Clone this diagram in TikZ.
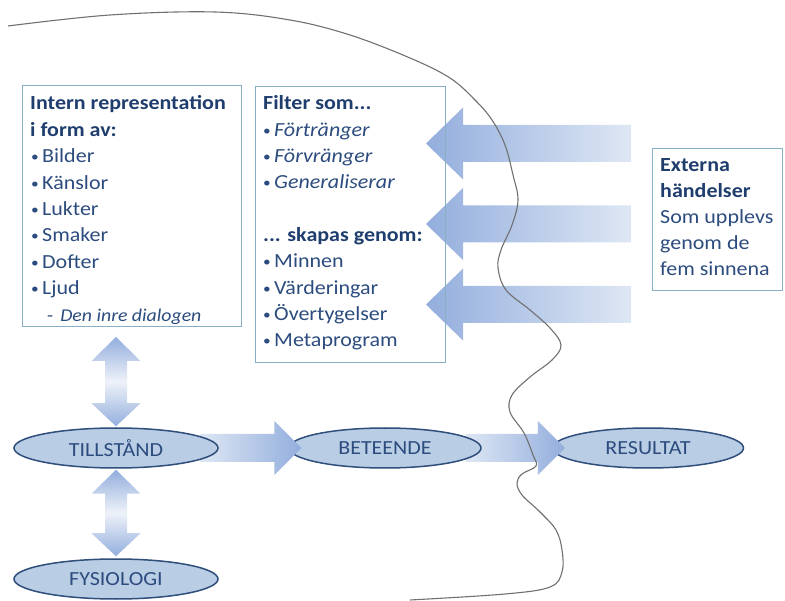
\documentclass[tikz,border=0pt]{standalone}
\usepackage{fontspec}
\setmainfont{Carlito}[FakeStretch=1.1]
\usetikzlibrary{calc,shapes.geometric}
\definecolor{txtc}{HTML}{2C4C7E}
\definecolor{hdc}{HTML}{1F3E6E}
\definecolor{bxc}{HTML}{86AFC6}
\definecolor{ellf}{HTML}{B9CDE5}
\definecolor{elld}{HTML}{2F4E7C}
\definecolor{adark}{HTML}{93AEDD}
\definecolor{alight}{HTML}{DEE7F4}
\definecolor{amid}{HTML}{EEF2F9}
\definecolor{curvec}{HTML}{707070}
\newcommand\bul{\makebox[11pt][l]{\fontsize{14}{14}\selectfont\raisebox{1pt}{•}}}
\newcommand\rarr[2]{\shade[left color=alight, right color=adark] let \p1=#1, \p2=#2 in
  (\x1,\y1+14pt) -- (\x2-27pt,\y1+14pt) -- (\x2-27pt,\y1+27pt) -- (\x2,\y2) --
  (\x2-27pt,\y1-27pt) -- (\x2-27pt,\y1-14pt) -- (\x1,\y1-14pt) -- cycle;}
\newcommand\larr[2]{\shade[left color=adark, right color=alight] let \p1=#1, \p2=#2 in
  (\x1,\y1) -- (\x1+37pt,\y1+36pt) -- (\x1+37pt,\y1+18.5pt) -- (\x2,\y1+18.5pt) --
  (\x2,\y1-18.5pt) -- (\x1+37pt,\y1-18.5pt) -- (\x1+37pt,\y1-36pt) -- cycle;}
\newcommand\vdarr[2]{\shade[top color=adark, bottom color=adark, middle color=amid] let \p1=#1, \p2=#2 in
  (\x1,\y1) -- (\x1+24.5pt,\y1-24pt) -- (\x1+11pt,\y1-24pt) -- (\x1+11pt,\y2+23pt) --
  (\x1+24.5pt,\y2+23pt) -- (\x2,\y2) -- (\x1-24.5pt,\y2+23pt) -- (\x1-11pt,\y2+23pt) --
  (\x1-11pt,\y1-24pt) -- (\x1-24.5pt,\y1-24pt) -- cycle;}
\begin{document}
\begin{tikzpicture}[x=1pt,y=-1pt,
  box/.style={draw=bxc, line width=0.8pt, anchor=north west, inner sep=0pt, outer sep=0pt},
  ln/.style={anchor=base west, inner sep=0pt, text=txtc, font=\fontsize{20}{24}\selectfont},
  hd/.style={ln, text=hdc, font=\fontsize{20}{24}\selectfont\bfseries},
  ell/.style={ellipse, draw=elld, fill=ellf, line width=1.5pt, minimum height=40, inner sep=0pt,
    text=txtc, font=\fontsize{20}{24}\selectfont}
]
\useasboundingbox (0,0) rectangle (785,601);

% boxes (frames, no fill)
\node[box, minimum width=219, minimum height=241] (intern) at (22,85) {};
\node[box, minimum width=190, minimum height=276] (filter) at (255,86) {};
\node[box, minimum width=130, minimum height=142] (ext) at (652,148) {};

% left-pointing arrows from external events to filter
\foreach \k in {0,1,2} {
  \coordinate (lt\k) at ($(filter.north east)+(-19,57.5+80.5*\k)$);
  \coordinate (lr\k) at ($(ext.north west)+(-21,-4.5+80.5*\k)$);
  \larr{(lt\k)}{(lr\k)}
}
% redraw frames on top
\draw[bxc, line width=0.8pt] (filter.north west) rectangle (filter.south east);

% ellipses and horizontal arrows (layered)
\node[ell, minimum width=191] (r) at (648,448) {RESULTAT};
\node[ell, minimum width=204, draw=none, fill=none] (t) at (116,448) {};
\node[ell, minimum width=192, draw=none, fill=none] (b) at (385,448) {};
\coordinate (h2s) at ($(b.east)+(-16,0)$);
\coordinate (h2t) at ($(r.west)+(13,0)$);
\rarr{(h2s)}{(h2t)}
\node[ell, minimum width=192] (b2) at (b) {BETEENDE};
\coordinate (h1s) at ($(t.east)+(-19,0)$);
\coordinate (h1t) at ($(b.west)+(13,0)$);
\rarr{(h1s)}{(h1t)}
\node[ell, minimum width=204] (t2) at (t) {TILLSTÅND};
\node[ell, minimum width=204] (f) at (116,579) {FYSIOLOGI};

% vertical double arrows
\coordinate (v1a) at ($(t.north |- intern.south)+(0,11)$);
\coordinate (v1b) at ($(t.north)+(0,-1)$);
\vdarr{(v1a)}{(v1b)}
\coordinate (v2a) at ($(t.south)+(0,1)$);
\coordinate (v2b) at ($(f.north)+(0,-2)$);
\vdarr{(v2a)}{(v2b)}

% texts: internal representation
\node[hd] (i0) at (30,110) {Intern representation};
\node[hd] (i1) at (30,136.4) {i form av:};
\foreach \yy/\tt [count=\i from 2] in {162.8/Bilder, 189.2/Känslor, 215.6/Lukter, 242/Smaker, 268.4/Dofter, 294.8/Ljud}
  \node[ln] (i\i) at (31,\yy) {\bul\tt};
\node[ln, font=\fontsize{18}{22}\selectfont] (i8) at (47,321.2) {-\hspace{7pt}\textit{Den inre dialogen}};

% texts: filter
\node[hd] (fl0) at (263,110) {Filter som...};
\foreach \yy/\tt [count=\i] in {136.3/Förtränger, 162.6/Förvränger, 188.9/Generaliserar}
  \node[ln] (fl\i) at (263,\yy) {\bul\textit{\tt}};
\node[hd] (fl4) at (263,241.5) {... skapas genom:};
\foreach \yy/\tt [count=\i from 5] in {267.8/Minnen, 294.1/Värderingar, 320.4/Övertygelser, 346.7/Metaprogram}
  \node[ln] (fl\i) at (263,\yy) {\bul\tt};

% texts: external
\node[hd] (e0) at (660,172) {Externa};
\node[hd] (e1) at (660,198) {händelser};
\node[ln] (e2) at (660,224) {Som upplevs};
\node[ln] (e3) at (660,250) {genom de};
\node[ln] (e4) at (660,276) {fem sinnena};

% boundary curve
\draw[curvec, line width=1.1pt] plot[smooth, tension=0.6] coordinates {
 (8,26) (110,15) (215,12) (290,20) (350,35) (410,58) (450,78) (475,100) (492,120)
 (505,145) (513,175) (518,200) (512,225) (501,250) (498,268) (506,290) (530,310)
 (550,328) (561,345) (552,360) (530,377) (512,395) (510,412) (524,433) (533,455)
 (536,466) (522,474) (517,483) (522,495) (540,512) (556,530) (562,550) (562,572)
 (550,587) (505,594) (410,600)};
\end{tikzpicture}
\end{document}
